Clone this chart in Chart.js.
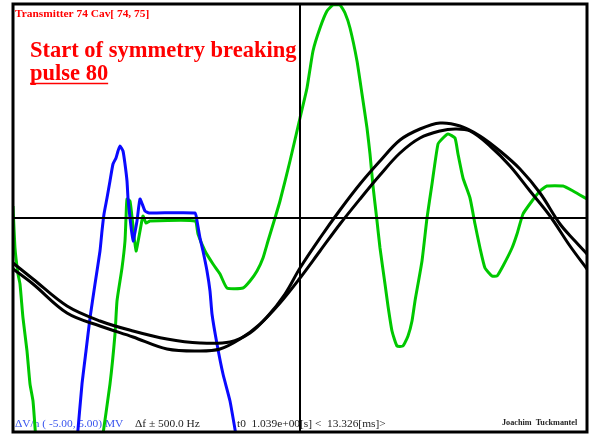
<!DOCTYPE html>
<html>
<head>
<meta charset="utf-8">
<script src="https://cdn.jsdelivr.net/npm/chart.js@4/dist/chart.umd.min.js"></script>
<style>
html,body{margin:0;padding:0;background:#fff;}
canvas{display:block;}
</style>
</head>
<body>
<canvas id="c" width="592" height="434"></canvas>
<script>
// time axis: 0..574 (window units), signal axis: -214..214
const xRange = [0, 574];
const yRange = [-214, 214];

const blackA = [[0,-45],[20,-61],[54,-88],[87,-103],[120,-113],[154,-121],[187,-125],[217,-124],[237,-115],[254,-99],[272,-76],[287,-50],[307,-20],[327,8],[347,34],[367,57],[387,78],[407,89],[427,95],[447,92],[467,82],[487,67],[507,49],[527,25],[547,-6],[562,-23],[574,-36]];
const blackB = [[0,-51],[20,-66],[54,-95],[87,-108],[120,-119],[154,-131],[187,-133],[207,-131],[227,-121],[247,-106],[267,-85],[287,-60],[307,-33],[327,-6],[347,19],[367,43],[387,65],[407,80],[427,87],[442,89],[457,87],[477,72],[497,52],[517,27],[537,2],[557,-28],[574,-51]];
const blue = [[64,-223],[69,-166],[73,-133],[77,-100],[82,-66],[87,-33],[89,-13],[91,4],[94,20],[97,37],[100,54],[103,60],[105,67],[107,72],[110,67],[112,54],[114,37],[115,20],[117,0],[120,-23],[124,-3],[127,19],[132,7],[136,5],[182,5],[184,-3],[187,-20],[190,-33],[194,-53],[197,-73],[199,-96],[204,-126],[210,-156],[217,-183],[224,-223]];
const greenA = [[0,12],[2,-30],[5,-56],[7,-66],[10,-100],[14,-133],[17,-166],[20,-183],[23,-223]];
const greenB = [[89,-223],[97,-166],[102,-116],[104,-83],[109,-50],[112,-23],[113,0],[114,19],[117,17],[120,-8],[123,-33],[127,-13],[130,2],[133,-5],[137,-3],[182,-3],[185,-16],[192,-33],[200,-46],[207,-56],[214,-70],[230,-70],[237,-63],[244,-53],[250,-40],[255,-23],[262,0],[267,17],[277,57],[287,100],[294,130],[300,167],[307,190],[314,207],[320,213],[327,213],[332,205],[337,190],[344,157],[349,124],[354,90],[357,64],[360,32],[364,-3],[367,-30],[372,-66],[375,-88],[379,-113],[384,-128],[390,-128],[395,-118],[399,-103],[402,-83],[409,-43],[414,0],[419,34],[425,74],[430,80],[435,84],[442,80],[445,64],[450,40],[457,20],[462,-6],[467,-30],[472,-50],[479,-58],[484,-58],[490,-48],[499,-30],[504,-16],[510,4],[519,17],[527,27],[534,32],[550,32],[560,27],[574,19]];

const titleSmall = "Transmitter 74 Cav[ 74, 75]";
const titleBig1 = "Start of symmetry breaking";
const titleBig2 = "pulse 80";
const footVolt = "\u0394V/n ( -5.00, 5.00) MV";
const footFreq = "\u0394f \u00b1 500.0 Hz";
const footTime = "t0  1.039e+00[s] <  13.326[ms]>";
const footAuthor = "Joachim  Tuckmantel";

const toPts = a => a.map(p => ({x:p[0], y:p[1]}));
const ds = (d, color, w, t) => ({data: toPts(d), borderColor: color, borderWidth: w, showLine: true, pointRadius: 0, fill: false, tension: t});

const textPlugin = {
  id: 'texts',
  beforeDatasetsDraw(chart) {
    const ctx = chart.ctx;
    ctx.save();
    ctx.textBaseline = 'alphabetic';
    ctx.textAlign = 'left';
    ctx.fillStyle = '#ff0000';
    ctx.font = 'bold 11.4px "Liberation Serif"';
    ctx.fillText(titleSmall, 15, 16.5);
    ctx.font = 'bold 22.5px "Liberation Serif"';
    ctx.fillText(titleBig1, 30, 57);
    ctx.fillText(titleBig2, 30, 80);
    const w = ctx.measureText(titleBig2).width;
    ctx.strokeStyle = '#ff0000';
    ctx.lineWidth = 1.6;
    ctx.beginPath(); ctx.moveTo(30, 83.5); ctx.lineTo(30 + w, 83.5); ctx.stroke();
    ctx.font = '11.4px "Liberation Serif"';
    ctx.fillStyle = '#3a55ee';
    ctx.fillText(footVolt, 15, 427);
    ctx.fillStyle = '#222';
    ctx.fillText(footFreq, 135, 427);
    ctx.fillText(footTime, 237, 427);
    ctx.font = 'bold 8.2px "Liberation Serif"';
    ctx.fillText(footAuthor, 502, 425);
    ctx.restore();
  },
  afterDatasetsDraw(chart) {
    const ctx = chart.ctx, a = chart.chartArea;
    const xs = chart.scales.x, ys = chart.scales.y;
    const cx = xs.getPixelForValue((xRange[0] + xRange[1]) / 2);
    const cy = ys.getPixelForValue(0);
    ctx.save();
    ctx.strokeStyle = '#000';
    ctx.lineWidth = 2;
    ctx.beginPath();
    ctx.moveTo(cx, a.top); ctx.lineTo(cx, a.bottom);
    ctx.moveTo(a.left, cy); ctx.lineTo(a.right, cy);
    ctx.stroke();
    ctx.lineWidth = 3;
    ctx.strokeRect(a.left, a.top, a.right - a.left, a.bottom - a.top);
    ctx.restore();
  }
};

new Chart(document.getElementById('c'), {
  type: 'scatter',
  data: {
    datasets: [
      ds(blackA, '#000', 3, 0.35),
      ds(blackB, '#000', 3, 0.35),
      ds(blue, '#0a0aff', 3, 0.15),
      ds(greenA, '#00c800', 3, 0.15),
      ds(greenB, '#00c800', 3, 0.15)
    ]
  },
  options: {
    responsive: false,
    animation: false,
    devicePixelRatio: 1,
    layout: {padding: {left: 13, right: 5, top: 4, bottom: 2}},
    plugins: {legend: {display: false}, tooltip: {enabled: false}, title: {display: false}},
    scales: {
      x: {type: 'linear', min: xRange[0], max: xRange[1], display: false},
      y: {type: 'linear', min: yRange[0], max: yRange[1], display: false}
    }
  },
  plugins: [textPlugin]
});
</script>
</body>
</html>
